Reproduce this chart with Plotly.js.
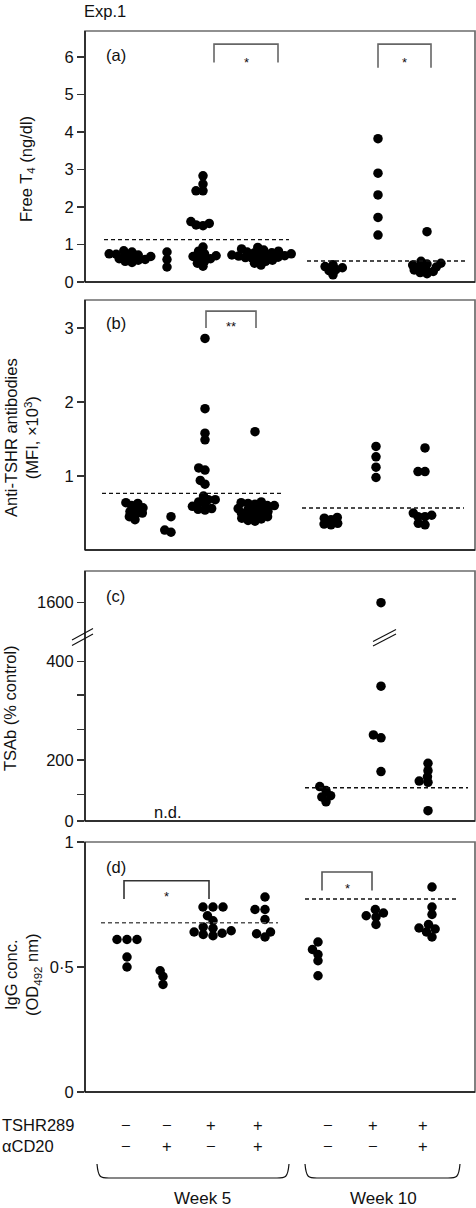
<!DOCTYPE html>
<html><head><meta charset="utf-8">
<script src="https://cdn.plot.ly/plotly-3.0.1.min.js"></script>
<style>html,body{margin:0;padding:0;background:#fff}#chart{width:476px;height:1208px}</style>
</head><body><div id="chart"></div>
<script>
// ================= DATA =================
const groupNames = ["W5 TSHR−/αCD20−","W5 TSHR−/αCD20+","W5 TSHR+/αCD20−","W5 TSHR+/αCD20+","W10 TSHR−/αCD20−","W10 TSHR+/αCD20−","W10 TSHR+/αCD20+"];
const tshr289Signs = ["−","−","+","+","−","+","+"];
const acd20Signs   = ["−","+","−","+","−","−","+"];
const weekLabels   = ["Week 5","Week 10"];

// (a) Free T4 (ng/dl), one list per group
const freeT4 = [
  [0.58,0.62,0.66,0.70,0.72,0.75,0.80,0.83,0.74,0.68,0.60,0.55,0.52],
  [0.80,0.60,0.40],
  [2.83,2.61,2.43,2.43,1.61,1.56,1.52,1.50,0.93,0.82,0.75,0.70,0.68,0.65,0.62,0.55,0.50,0.42],
  [0.92,0.88,0.85,0.82,0.80,0.78,0.77,0.75,0.73,0.72,0.70,0.69,0.68,0.66,0.65,0.63,0.60,0.58,0.55,0.50,0.45],
  [0.46,0.41,0.38,0.33,0.30,0.19],
  [3.82,2.90,2.32,1.72,1.25],
  [1.34,0.55,0.50,0.48,0.45,0.42,0.40,0.35,0.32,0.28,0.25,0.22]
];
const freeT4Cutoff = [1.13, 0.56];

// (b) Anti-TSHR antibodies (MFI, x10^3)
const antiTSHR = [
  [0.64,0.63,0.60,0.57,0.55,0.52,0.50,0.48,0.45,0.41],
  [0.45,0.27,0.24],
  [2.86,1.91,1.58,1.49,1.11,1.08,0.94,0.89,0.73,0.68,0.68,0.65,0.62,0.59,0.56,0.55,0.54],
  [1.60,0.65,0.64,0.63,0.62,0.60,0.60,0.58,0.56,0.55,0.54,0.52,0.50,0.50,0.48,0.47,0.45,0.43,0.42,0.40,0.39],
  [0.44,0.43,0.41,0.36,0.35,0.34],
  [1.40,1.26,1.12,0.98],
  [1.38,1.06,1.06,0.50,0.47,0.45,0.45,0.36,0.34]
];
const antiTSHRCutoff = [0.765, 0.567];

// (c) TSAb (% control); week 5 not determined
const tsab = [
  null, null, null, null,
  [113,100,83,79,63],
  [1600,350,251,245,162],
  [189,165,145,131,127,34]
];
const tsabCutoff = [null, 109];

// (d) IgG conc. (OD492 nm)
const igg = [
  [0.61,0.61,0.61,0.54,0.50],
  [0.485,0.462,0.43],
  [0.74,0.74,0.74,0.705,0.685,0.66,0.655,0.645,0.64,0.635,0.63,0.625],
  [0.78,0.73,0.73,0.69,0.64,0.633,0.62],
  [0.60,0.57,0.55,0.525,0.465],
  [0.73,0.716,0.705,0.70,0.67],
  [0.82,0.74,0.71,0.67,0.656,0.652,0.64,0.62]
];
const iggCutoff = [0.677, 0.772];

// ================= LAYOUT GEOMETRY =================
const W = 476, H = 1208;
const PL = 85, PR = 475, PT = 31, PB = 1092;
const X_RANGE = [0, 10];
const pxPerX = (PR - PL) / (X_RANGE[1] - X_RANGE[0]);
const toX = px => X_RANGE[0] + (px - PL) / pxPerX;
const pxX = px => (px - PL) / (PR - PL);       // paper x
const pyY = py => (PB - py) / (PB - PT);       // paper y

const FONT = "Liberation Sans, Arial, Helvetica, sans-serif";
const FS = 16.5;

const AX = {
  a:    {id:'y',  top:31,  bottom:282,  range:[0,6.69], tickvals:[0,1,2,3,4,5,6]},
  b:    {id:'y2', top:300, bottom:550,  range:[0,3.38], tickvals:[1,2,3]},
  cLow: {id:'y3', top:760, bottom:821,  range:[0,200],  tickvals:[0,200], minorvals:[87]},
  cMid: {id:'y4', top:637, bottom:760,  range:[200,450],tickvals:[400], minorvals:[262,332]},
  cTop: {id:'y5', top:571, bottom:637,  range:[1496,1696], tickvals:[1600]},
  d:    {id:'y6', top:842, bottom:1092, range:[0,1],    tickvals:[0,0.5,1], ticktext:['0','0·5','1']}
};
const valToPx = (ax, v) => ax.bottom - (v - ax.range[0]) / (ax.range[1] - ax.range[0]) * (ax.bottom - ax.top);

// group centre positions (pixels) per panel
const centresPx = {
  a: [132,167,203,261,333,378,427],
  b: [135,171,205,255,331,376,425],
  c: [null,null,null,null,326,381,428],
  d: [127,163,213,265,318,376,432]
};

// beeswarm offsets computed in pixel space with an elliptical exclusion zone
function swarm(pys, sx, sy) {
  const idx = pys.map((_, i) => i).sort((a, b) => pys[b] - pys[a]);
  const placed = [], out = new Array(pys.length);
  const ok = (c, y) => placed.every(p => ((p.x - c)/sx)**2 + ((p.y - y)/sy)**2 >= 1 - 1e-6);
  for (const i of idx) {
    const y = pys[i];
    const c = [0];
    for (const p of placed) {
      const dy = Math.abs(p.y - y);
      if (dy < sy) { const dx = sx * Math.sqrt(1 - (dy/sy)**2); c.push(p.x + dx, p.x - dx); }
    }
    c.sort((u, v) => Math.abs(u) - Math.abs(v) || u - v);
    let ch = 0;
    for (const cand of c) { if (ok(cand, y)) { ch = cand; break; } }
    placed.push({x: ch, y});
    out[i] = ch;
  }
  return out;
}

const traces = [];
const MSIZE = 9.5;
function addGroup(values, centrePx, axisOf, sx, sy) {
  const pys = values.map(v => valToPx(axisOf(v), v));
  const offs = swarm(pys, sx, sy);
  const byAxis = {};
  values.forEach((v, i) => {
    const ax = axisOf(v);
    (byAxis[ax.id] = byAxis[ax.id] || {x: [], y: []});
    byAxis[ax.id].x.push(toX(centrePx + offs[i]));
    byAxis[ax.id].y.push(v);
  });
  for (const id in byAxis) {
    traces.push({type:'scatter', mode:'markers', x: byAxis[id].x, y: byAxis[id].y,
      xaxis:'x', yaxis:id, cliponaxis:false, hoverinfo:'skip', showlegend:false,
      marker:{size:MSIZE, color:'#000', line:{width:0}}});
  }
}
freeT4.forEach((g, i) => addGroup(g, centresPx.a[i], () => AX.a, 7, 5));
antiTSHR.forEach((g, i) => addGroup(g, centresPx.b[i], () => AX.b, 7, 5));
const tsabAxis = v => v < 200 ? AX.cLow : (v <= 450 ? AX.cMid : AX.cTop);
tsab.forEach((g, i) => { if (g) addGroup(g, centresPx.c[i], tsabAxis, 9, 5.5); });
igg.forEach((g, i) => addGroup(g, centresPx.d[i], () => AX.d, 10, 6));

// ================= AXES =================
const layout = {
  width: W, height: H,
  margin: {l: PL, r: W - PR, t: PT, b: H - PB, pad: 0},
  paper_bgcolor: '#fff', plot_bgcolor: 'rgba(0,0,0,0)',
  showlegend: false,
  font: {family: FONT, size: FS, color: '#111'},
  xaxis: {range: X_RANGE, visible: false, fixedrange: true, anchor: 'y6'},
  shapes: [], annotations: []
};
for (const k in AX) {
  const a = AX[k];
  const key = a.id === 'y' ? 'yaxis' : 'yaxis' + a.id.slice(1);
  const ax = {
    domain: [pyY(a.bottom), pyY(a.top)], range: a.range, anchor: 'x',
    tickmode: 'array', tickvals: a.tickvals, ticktext: a.ticktext || a.tickvals.map(String),
    ticks: 'outside', ticklen: 7, tickwidth: 1.3, tickcolor: '#333',
    showline: false, showgrid: false, zeroline: false, fixedrange: true,
    tickfont: {family: FONT, size: FS, color: '#111'}
  };
  if (a.minorvals) {
    ax.minor = {tickmode:'array', tickvals:a.minorvals, ticks:'outside', ticklen:7, tickwidth:1.3, tickcolor:'#333', showgrid:false};
  }
  layout[key] = ax;
}

// ================= FRAMES & DECORATIONS =================
const S = layout.shapes, A = layout.annotations;
const panels = [[31,282],[300,550],[571,821],[842,1092]];
panels.forEach(([t, b]) => {
  S.push({type:'rect', xref:'paper', yref:'paper', x0:0, x1:1, y0:pyY(b), y1:pyY(t), line:{color:'#6c6c6c', width:1.7}});
  S.push({type:'line', xref:'paper', yref:'paper', x0:0, x1:0, y0:pyY(b), y1:pyY(t), line:{color:'#111', width:1.4}});
  S.push({type:'line', xref:'paper', yref:'paper', x0:0, x1:1, y0:pyY(b), y1:pyY(b), line:{color:'#111', width:1.5}});
});

// cutoff dashed lines
function dash(yref, v, px0, px1, color) {
  S.push({type:'line', xref:'x', yref, x0:toX(px0), x1:toX(px1), y0:v, y1:v,
    line:{color: color || '#111', width:1.4, dash:'4px,3px'}});
}
dash('y', freeT4Cutoff[0], 104, 289); dash('y', freeT4Cutoff[1], 307, 468);
dash('y2', antiTSHRCutoff[0], 102, 283); dash('y2', antiTSHRCutoff[1], 302, 464);
dash('y3', tsabCutoff[1], 305, 468);
dash('y6', iggCutoff[0], 101, 278, '#555'); dash('y6', iggCutoff[1], 305, 459);

// significance brackets
function bracket(yref, px0, px1, top, b0, b1, label, starPy, color) {
  const x0 = toX(px0), x1 = toX(px1);
  S.push({type:'path', xref:'x', yref, path:`M${x0},${b0} L${x0},${top} L${x1},${top} L${x1},${b1}`,
    line:{color: color || '#666', width:1.6}});
  A.push({xref:'paper', yref:'paper', x:pxX((px0+px1)/2), y:pyY(starPy), text:label, showarrow:false,
    font:{size:13, color:'#111'}, xanchor:'center', yanchor:'middle'});
}
bracket('y', 214, 278, 6.34, 5.85, 5.85, '*', 62);
bracket('y', 378, 431, 6.34, 5.71, 5.71, '*', 62);
bracket('y2', 206, 256, 3.23, 3.0, 3.0, '**', 326);
bracket('y6', 124, 209, 0.845, 0.772, 0.772, '*', 896, '#333');
bracket('y6', 322, 372, 0.88, 0.806, 0.806, '*', 888, '#555');

// axis-break marks in panel (c)
function brk(px0, px1, py0, py1) {
  S.push({type:'line', xref:'paper', yref:'paper', x0:pxX(px0), x1:pxX(px1), y0:pyY(py0), y1:pyY(py1), line:{color:'#111', width:1.1}});
}
brk(72, 93, 640, 628.5); brk(72, 93, 645.5, 634);
brk(373, 396, 641.5, 629.5); brk(373, 396, 646, 634);

// braces under the groups
function brace(px0, px1, pyTop, pyBot, r) {
  const x0 = pxX(px0), x1 = pxX(px1), yt = pyY(pyTop), yb = pyY(pyBot);
  const rx = r / (PR - PL);
  S.push({type:'path', xref:'paper', yref:'paper',
    path:`M${x0},${yt} C${x0+rx*0.1},${yb} ${x0+rx*0.3},${yb} ${x0+rx},${yb} L${x1-rx},${yb} C${x1-rx*0.3},${yb} ${x1-rx*0.1},${yb} ${x1},${yt}`,
    line:{color:'#111', width:1.2}});
}
brace(97, 289, 1164, 1178, 12);
brace(305, 460, 1164, 1178, 12);

// ================= TEXT =================
function txt(text, px, py, opts) {
  A.push(Object.assign({xref:'paper', yref:'paper', x:pxX(px), y:pyY(py), text, showarrow:false,
    xanchor:'center', yanchor:'middle', font:{family:FONT, size:FS, color:'#111'}}, opts || {}));
}
txt('Exp.1', 82, 11, {xanchor:'left'});
txt('(a)', 104, 55, {xanchor:'left'});
txt('(b)', 104, 323, {xanchor:'left'});
txt('(c)', 104, 596, {xanchor:'left'});
txt('(d)', 104, 867, {xanchor:'left'});
txt('n.d.', 168, 812);

txt('Free T<sub>4</sub> (ng/dl)', 27, 169, {textangle:-90});
txt('Anti-TSHR antibodies<br>(MFI, ×10<sup>3</sup>)', 21, 438, {textangle:-90});
txt('TSAb (% control)', 10, 708, {textangle:-90});
txt('IgG conc.<br>(OD<sub>492</sub> nm)', 23, 975, {textangle:-90});

const labelPx = [126,167,211,258,328,373,423];
txt('TSHR289', 0, 1125, {xanchor:'left'});
txt('αCD20', 0, 1146, {xanchor:'left'});
tshr289Signs.forEach((s, i) => txt(s, labelPx[i], 1125));
acd20Signs.forEach((s, i) => txt(s, labelPx[i], 1146));
txt(weekLabels[0], 202, 1198, {font:{family:FONT, size:17, color:'#111'}});
txt(weekLabels[1], 383, 1198, {font:{family:FONT, size:17, color:'#111'}});

Plotly.newPlot('chart', traces, layout, {staticPlot:true, displayModeBar:false});
</script>
</body></html>
